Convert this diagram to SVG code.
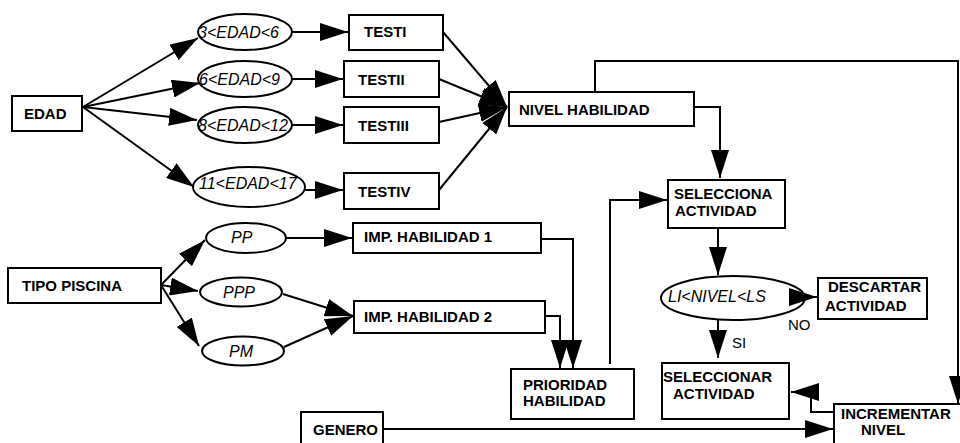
<svg xmlns="http://www.w3.org/2000/svg" width="960" height="443" viewBox="0 0 960 443">
<defs>
<marker id="ah" markerUnits="userSpaceOnUse" markerWidth="28" markerHeight="18" refX="28" refY="9" orient="auto" viewBox="0 0 28 18">
<path d="M0,0 L28,9 L0,18 z" fill="#000"/>
</marker>
</defs>
<style>
rect,ellipse{fill:#fff;stroke:#000;stroke-width:2}
.c path,.c line{fill:none;stroke:#000;stroke-width:2}
.a{marker-end:url(#ah)}
text{font-family:"Liberation Sans",Arial,sans-serif;font-size:15px;fill:#000}
.b{font-weight:bold}
.i{font-style:italic;font-size:16px}
</style>
<rect x="0" y="0" width="960" height="443" style="fill:#fff;stroke:none"/>
<g id="edad"><rect x="12" y="96" width="70" height="35"/><text class="b" x="24" y="119">EDAD</text></g>
<g id="e1"><ellipse cx="245" cy="32" rx="47" ry="18"/><text class="i" x="198" y="38">3&lt;EDAD&lt;6</text></g>
<g id="e2"><ellipse cx="245" cy="79" rx="47" ry="18"/><text class="i" x="199" y="85">6&lt;EDAD&lt;9</text></g>
<g id="e3"><ellipse cx="245" cy="125" rx="47" ry="18"/><text class="i" x="198" y="131">8&lt;EDAD&lt;12</text></g>
<g id="e4"><ellipse cx="249" cy="187" rx="56" ry="20"/><text class="i" x="199" y="189">11&lt;EDAD&lt;17</text></g>
<g id="testi"><rect x="349" y="15" width="94" height="35"/><text class="b" x="364" y="37">TESTI</text></g>
<g id="testii"><rect x="344" y="61" width="95" height="36"/><text class="b" x="358" y="85">TESTII</text></g>
<g id="testiii"><rect x="344" y="107" width="95" height="36"/><text class="b" x="358" y="131">TESTIII</text></g>
<g id="testiv"><rect x="344" y="173" width="95" height="36"/><text class="b" x="358" y="197">TESTIV</text></g>
<g id="nivel"><rect x="509" y="92" width="185" height="34"/><text class="b" x="519" y="115">NIVEL HABILIDAD</text></g>
<g id="selecciona"><rect x="668" y="180" width="117" height="48"/><text class="b" x="674" y="199">SELECCIONA</text><text class="b" x="675" y="216">ACTIVIDAD</text></g>
<g id="tipo"><rect x="8" y="268" width="153" height="35"/><text class="b" x="22" y="291">TIPO PISCINA</text></g>
<g id="pp"><ellipse cx="246" cy="238" rx="40" ry="15"/><text class="i" x="231" y="243">PP</text></g>
<g id="ppp"><ellipse cx="241" cy="292" rx="41" ry="14.5"/><text class="i" x="223" y="298">PPP</text></g>
<g id="pm"><ellipse cx="243" cy="351" rx="41" ry="14.5"/><text class="i" x="229" y="357">PM</text></g>
<g id="imp1"><rect x="353" y="223" width="188" height="30"/><text class="b" x="364" y="242">IMP. HABILIDAD 1</text></g>
<g id="imp2"><rect x="354" y="301" width="191" height="32"/><text class="b" x="364" y="322">IMP. HABILIDAD 2</text></g>
<g id="prioridad"><rect x="511" y="369" width="123" height="50"/><text class="b" x="523" y="390">PRIORIDAD</text><text class="b" x="523" y="406">HABILIDAD</text></g>
<g id="cond"><ellipse cx="733" cy="298" rx="72" ry="22"/><text class="i" x="668" y="302">LI&lt;NIVEL&lt;LS</text></g>
<g id="descartar"><rect x="818" y="278" width="109" height="41"/><text class="b" x="828" y="292">DESCARTAR</text><text class="b" x="825" y="311">ACTIVIDAD</text></g>
<g id="seleccionar"><rect x="662" y="363" width="127" height="56"/><text class="b" x="663" y="382">SELECCIONAR</text><text class="b" x="673" y="399">ACTIVIDAD</text></g>
<g id="genero"><rect x="301" y="412" width="82" height="40"/><text class="b" x="313" y="435">GENERO</text></g>
<g id="incrementar"><rect x="834" y="404" width="130" height="50"/><text class="b" x="841" y="419">INCREMENTAR</text><text class="b" x="861" y="435">NIVEL</text></g>
<g id="labels"><text x="788" y="330">NO</text><text x="732" y="348">SI</text></g>
<g class="c" id="connectors">
<line class="a" x1="83" y1="107" x2="198" y2="38"/>
<line class="a" x1="83" y1="107" x2="200" y2="83"/>
<line class="a" x1="83" y1="107" x2="197" y2="120"/>
<line class="a" x1="83" y1="107" x2="194" y2="187"/>
<line class="a" x1="292" y1="32" x2="348" y2="32"/>
<line class="a" x1="292" y1="79" x2="343" y2="79"/>
<line class="a" x1="292" y1="125" x2="343" y2="125"/>
<line class="a" x1="305" y1="190" x2="343" y2="190"/>
<line class="a" x1="443" y1="32" x2="507" y2="107"/>
<line class="a" x1="439" y1="79" x2="507" y2="107"/>
<line class="a" x1="439" y1="122" x2="507" y2="107"/>
<line class="a" x1="439" y1="190" x2="507" y2="107"/>
<path class="a" d="M694,107 H721 M720,107 V178"/>
<path class="a" d="M595,92 V61 H958 V404"/>
<line class="a" x1="161" y1="285" x2="205" y2="240"/>
<line class="a" x1="161" y1="285" x2="198" y2="291"/>
<line class="a" x1="161" y1="285" x2="199" y2="346"/>
<line class="a" x1="287" y1="238" x2="352" y2="238"/>
<line class="a" x1="283" y1="294" x2="353" y2="316"/>
<line class="a" x1="284" y1="347" x2="353" y2="316"/>
<path class="a" d="M541,239 H574 M573,239 V368"/>
<path class="a" d="M545,316 H561 M560,316 V368"/>
<path class="a" d="M610,364 V200 H667"/>
<line class="a" x1="718" y1="228" x2="718" y2="275"/>
<line class="a" x1="790" y1="297" x2="817" y2="297"/>
<line class="a" x1="718" y1="320" x2="718" y2="358"/>
<path class="a" d="M834,412 H811 V392 H791"/>
<line class="a" x1="383" y1="429" x2="833" y2="429"/>
</g>
</svg>
